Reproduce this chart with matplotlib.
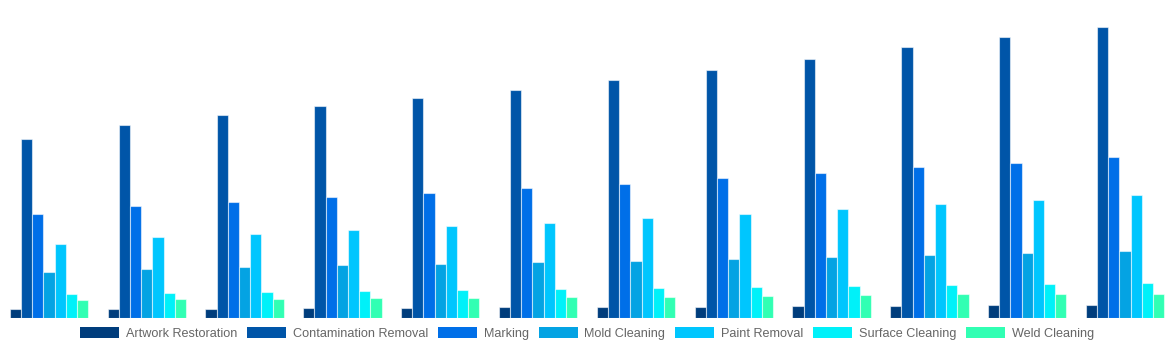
import numpy as np
import matplotlib.pyplot as plt

#--------------------- DATA -------------------#
periods = ["P1", "P2", "P3", "P4", "P5", "P6", "P7", "P8", "P9", "P10", "P11", "P12"]

artwork_restoration = [8.7, 9.4, 9.4, 9.7, 10.4, 10.7, 10.7, 11.4, 11.7, 12.4, 12.7, 13.0]
contamination_removal = [179.4, 193.4, 202.7, 211.7, 219.7, 228.4, 237.7, 248.4, 259.4, 270.7, 280.7, 291.4]
marking = [103.7, 111.7, 116.4, 120.7, 125.0, 129.7, 134.4, 139.7, 145.0, 150.7, 155.4, 160.7]
mold_cleaning = [46.0, 49.0, 50.7, 52.7, 54.0, 55.7, 57.0, 59.0, 61.0, 63.0, 64.7, 66.7]
paint_removal = [74.4, 80.7, 84.4, 88.0, 92.0, 95.4, 99.7, 104.0, 108.7, 113.7, 118.0, 122.7]
surface_cleaning = [23.7, 25.0, 26.0, 27.0, 27.7, 28.7, 29.7, 30.7, 32.0, 33.0, 33.7, 35.0]
weld_cleaning = [17.7, 18.7, 19.4, 19.7, 20.4, 20.7, 21.4, 22.0, 22.7, 23.7, 23.7, 24.4]

series = [
    ("Artwork Restoration", artwork_restoration, "#003d7c"),
    ("Contamination Removal", contamination_removal, "#0055a8"),
    ("Marking", marking, "#006fe8"),
    ("Mold Cleaning", mold_cleaning, "#04a3e3"),
    ("Paint Removal", paint_removal, "#00c6fe"),
    ("Surface Cleaning", surface_cleaning, "#00f1f9"),
    ("Weld Cleaning", weld_cleaning, "#31ffb3"),
]

#--------------------- FIGURE -------------------#
plt.rcParams['font.family'] = ['Liberation Sans', 'DejaVu Sans']

fig = plt.figure(figsize=(11.74, 3.5), dpi=100)
ax = fig.add_axes([0, 32 / 350, 1, 318 / 350])

x = np.arange(len(periods))
n = len(series)
slot = 0.8 / n
for i, (name, vals, color) in enumerate(series):
    offs = (i - (n - 1) / 2) * slot
    ax.bar(x + offs, vals, width=slot, color=color, label=name,
           edgecolor=(1, 1, 1, 0.55), linewidth=0.8)

ax.set_xlim(-0.5, len(periods) - 0.5)
ax.set_ylim(0, 318)
ax.axis("off")

handles, labels = ax.get_legend_handles_labels()
leg = fig.legend(handles, labels, loc="center", bbox_to_anchor=(0.5, 16.5 / 350),
                 ncol=7, frameon=False, fontsize=9.1, handlelength=3.1,
                 handleheight=1.0, handletextpad=0.5, columnspacing=0.8,
                 labelcolor="#666666")
for h in leg.legend_handles:
    h.set_edgecolor("none")

fig.savefig("out.png", dpi=100)
